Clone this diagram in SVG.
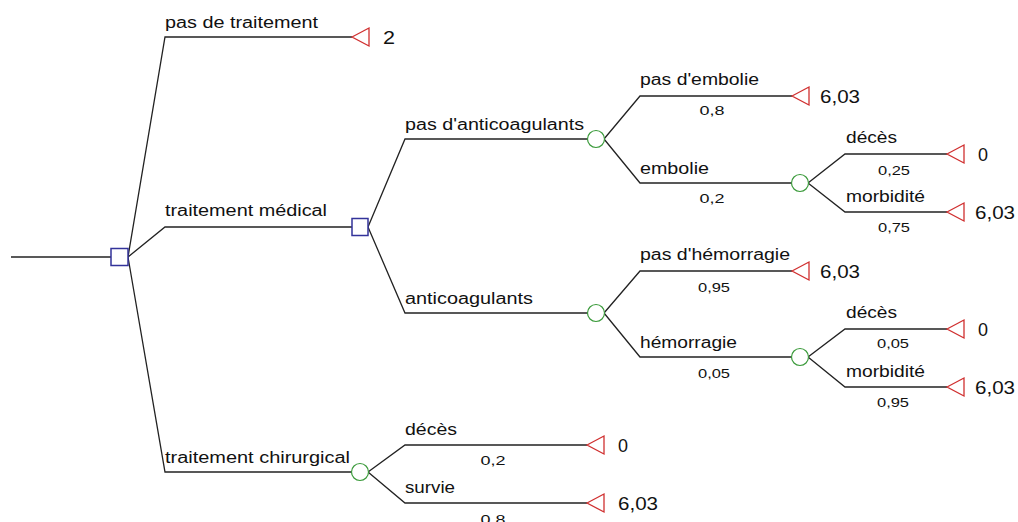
<svg xmlns="http://www.w3.org/2000/svg" width="1018" height="522" viewBox="0 0 1018 522">
<style>
.ln{stroke:#222;stroke-width:1.3;fill:none}
.dec{fill:#fff;stroke:#33339a;stroke-width:1.5}
.ch{fill:#fff;stroke:#3a9a3a;stroke-width:1.2}
.tm{fill:#fff;stroke:#d03030;stroke-width:1.3}
.lb{font-family:"Liberation Sans",Arial,sans-serif;font-size:16px;fill:#111}
.pr{font-family:"Liberation Sans",Arial,sans-serif;font-size:13.5px;fill:#111;text-anchor:middle}
.val{font-family:"Liberation Sans",Arial,sans-serif;font-size:18px;fill:#111}
</style>
<rect width="1018" height="522" fill="#fff"/>
<g id="connectors">
<polyline class="ln" points="11,257 111,257"/>
<polyline class="ln" points="128,257 165,37 352,37"/>
<polyline class="ln" points="128,257 165,227 352,227"/>
<polyline class="ln" points="128,257 165,472 352,472"/>
<polyline class="ln" points="368,227 405,139 588,139"/>
<polyline class="ln" points="368,227 405,313 588,313"/>
<polyline class="ln" points="604,139 640,96 792,96"/>
<polyline class="ln" points="604,139 640,183 792,183"/>
<polyline class="ln" points="808,183 845,154 947,154"/>
<polyline class="ln" points="808,183 845,212 947,212"/>
<polyline class="ln" points="604,313 640,271 792,271"/>
<polyline class="ln" points="604,313 640,357 792,357"/>
<polyline class="ln" points="808,357 845,329 947,329"/>
<polyline class="ln" points="808,357 845,387 947,387"/>
<polyline class="ln" points="368,472 405,445 587,445"/>
<polyline class="ln" points="368,472 405,503 587,503"/>
</g>
<g id="labels">
<text class="lb" x="165" y="28" textLength="153" lengthAdjust="spacingAndGlyphs">pas de traitement</text>
<text class="lb" x="165" y="216" textLength="162" lengthAdjust="spacingAndGlyphs">traitement médical</text>
<text class="lb" x="165" y="463" textLength="185" lengthAdjust="spacingAndGlyphs">traitement chirurgical</text>
<text class="lb" x="405" y="130" textLength="179" lengthAdjust="spacingAndGlyphs">pas d'anticoagulants</text>
<text class="lb" x="405" y="304" textLength="128" lengthAdjust="spacingAndGlyphs">anticoagulants</text>
<text class="lb" x="640" y="85" textLength="119" lengthAdjust="spacingAndGlyphs">pas d'embolie</text>
<text class="lb" x="640" y="174" textLength="69" lengthAdjust="spacingAndGlyphs">embolie</text>
<text class="lb" x="846" y="143" textLength="51" lengthAdjust="spacingAndGlyphs">décès</text>
<text class="lb" x="846" y="202" textLength="79" lengthAdjust="spacingAndGlyphs">morbidité</text>
<text class="lb" x="640" y="260" textLength="150" lengthAdjust="spacingAndGlyphs">pas d'hémorragie</text>
<text class="lb" x="640" y="348" textLength="97" lengthAdjust="spacingAndGlyphs">hémorragie</text>
<text class="lb" x="846" y="318" textLength="51" lengthAdjust="spacingAndGlyphs">décès</text>
<text class="lb" x="846" y="377" textLength="79" lengthAdjust="spacingAndGlyphs">morbidité</text>
<text class="lb" x="405" y="435" textLength="52" lengthAdjust="spacingAndGlyphs">décès</text>
<text class="lb" x="405" y="493" textLength="50" lengthAdjust="spacingAndGlyphs">survie</text>
<text class="pr" x="712" y="115" textLength="25" lengthAdjust="spacingAndGlyphs">0,8</text>
<text class="pr" x="712" y="203" textLength="25" lengthAdjust="spacingAndGlyphs">0,2</text>
<text class="pr" x="894" y="175" textLength="32" lengthAdjust="spacingAndGlyphs">0,25</text>
<text class="pr" x="894" y="232" textLength="32" lengthAdjust="spacingAndGlyphs">0,75</text>
<text class="pr" x="714" y="292" textLength="32" lengthAdjust="spacingAndGlyphs">0,95</text>
<text class="pr" x="714" y="378" textLength="32" lengthAdjust="spacingAndGlyphs">0,05</text>
<text class="pr" x="893" y="348" textLength="32" lengthAdjust="spacingAndGlyphs">0,05</text>
<text class="pr" x="893" y="407" textLength="32" lengthAdjust="spacingAndGlyphs">0,95</text>
<text class="pr" x="493" y="465" textLength="25" lengthAdjust="spacingAndGlyphs">0,2</text>
<text class="pr" x="493" y="524" textLength="25" lengthAdjust="spacingAndGlyphs">0,8</text>
</g>
<g id="root"><rect class="dec" x="111" y="248.5" width="17" height="17"/></g>
<g id="medical"><rect class="dec" x="352" y="218.5" width="16" height="17"/></g>
<g id="chance-anticoag-no"><circle class="ch" cx="596" cy="139" r="8.5"/></g>
<g id="chance-embolie"><circle class="ch" cx="800" cy="183" r="8.5"/></g>
<g id="chance-anticoag"><circle class="ch" cx="596" cy="313" r="8.5"/></g>
<g id="chance-hemorragie"><circle class="ch" cx="800" cy="357" r="8.5"/></g>
<g id="chance-chirurgical"><circle class="ch" cx="360" cy="472" r="8.5"/></g>
<g id="t-pas-traitement"><polygon class="tm" points="352,37 369,28 369,46"/><text class="val" x="383" y="44" textLength="12" lengthAdjust="spacingAndGlyphs">2</text></g>
<g id="t-pas-embolie"><polygon class="tm" points="792,96 809,87 809,105"/><text class="val" x="820" y="103" textLength="40" lengthAdjust="spacingAndGlyphs">6,03</text></g>
<g id="t-emb-deces"><polygon class="tm" points="947,154 964,145 964,163"/><text class="val" x="978" y="161" textLength="10" lengthAdjust="spacingAndGlyphs">0</text></g>
<g id="t-emb-morb"><polygon class="tm" points="947,212 964,203 964,221"/><text class="val" x="975" y="219" textLength="40" lengthAdjust="spacingAndGlyphs">6,03</text></g>
<g id="t-pas-hemo"><polygon class="tm" points="792,271 809,262 809,280"/><text class="val" x="820" y="278" textLength="40" lengthAdjust="spacingAndGlyphs">6,03</text></g>
<g id="t-hemo-deces"><polygon class="tm" points="947,329 964,320 964,338"/><text class="val" x="978" y="336" textLength="10" lengthAdjust="spacingAndGlyphs">0</text></g>
<g id="t-hemo-morb"><polygon class="tm" points="947,387 964,378 964,396"/><text class="val" x="975" y="394" textLength="40" lengthAdjust="spacingAndGlyphs">6,03</text></g>
<g id="t-chir-deces"><polygon class="tm" points="587,445 604,436 604,454"/><text class="val" x="618" y="452" textLength="10" lengthAdjust="spacingAndGlyphs">0</text></g>
<g id="t-chir-survie"><polygon class="tm" points="587,503 604,494 604,512"/><text class="val" x="618" y="510" textLength="40" lengthAdjust="spacingAndGlyphs">6,03</text></g>
</svg>
